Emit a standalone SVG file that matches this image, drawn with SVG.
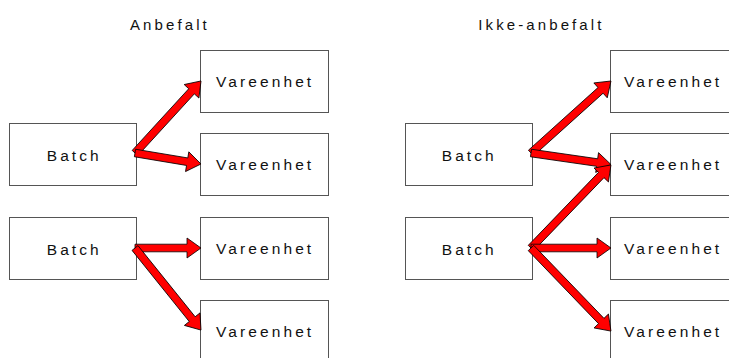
<svg xmlns="http://www.w3.org/2000/svg" width="729" height="358" viewBox="0 0 729 358">
  <style>
    .box { fill: #ffffff; stroke: #555555; stroke-width: 1; }
    .lbl { font-family: "Liberation Sans", Arial, sans-serif; font-size: 15.5px; fill: #111111; letter-spacing: 3.1px; }
    .ttl { font-family: "Liberation Sans", Arial, sans-serif; font-size: 15px; fill: #111111; letter-spacing: 3.1px; }
    .arr { fill: #ff0000; stroke: #000000; stroke-width: 0.8; stroke-linejoin: miter; }
  </style>
  <rect width="729" height="358" fill="#ffffff"/>

  <g id="title-left"><text class="ttl" x="130" y="29.5">Anbefalt</text></g>
  <g id="title-right"><text class="ttl" x="478.3" y="29.5">Ikke-anbefalt</text></g>

  <!-- Left panel nodes -->
  <g id="l-batch1"><rect class="box" x="9.5" y="123.5" width="127" height="62"/><text class="lbl" x="46.7" y="160.5">Batch</text></g>
  <g id="l-batch2"><rect class="box" x="9.5" y="217.5" width="127" height="62"/><text class="lbl" x="46.7" y="254.5">Batch</text></g>
  <g id="l-vare1"><rect class="box" x="200.5" y="50.5" width="128" height="62"/><text class="lbl" x="216" y="87">Vareenhet</text></g>
  <g id="l-vare2"><rect class="box" x="200.5" y="133.5" width="128" height="62"/><text class="lbl" x="216" y="170">Vareenhet</text></g>
  <g id="l-vare3"><rect class="box" x="200.5" y="217.5" width="128" height="62"/><text class="lbl" x="216" y="254">Vareenhet</text></g>
  <g id="l-vare4"><rect class="box" x="200.5" y="300.5" width="128" height="62"/><text class="lbl" x="216" y="337">Vareenhet</text></g>

  <!-- Right panel nodes -->
  <g id="r-batch1"><rect class="box" x="405.5" y="123.5" width="127" height="62"/><text class="lbl" x="441.7" y="160.5">Batch</text></g>
  <g id="r-batch2"><rect class="box" x="405.5" y="217.5" width="127" height="62"/><text class="lbl" x="441.7" y="254.5">Batch</text></g>
  <g id="r-vare1"><rect class="box" x="610.5" y="50.5" width="128" height="62"/><text class="lbl" x="624" y="87">Vareenhet</text></g>
  <g id="r-vare2"><rect class="box" x="610.5" y="133.5" width="128" height="62"/><text class="lbl" x="624" y="170">Vareenhet</text></g>
  <g id="r-vare3"><rect class="box" x="610.5" y="217.5" width="128" height="62"/><text class="lbl" x="624" y="254">Vareenhet</text></g>
  <g id="r-vare4"><rect class="box" x="610.5" y="300.5" width="128" height="62"/><text class="lbl" x="624" y="337">Vareenhet</text></g>

  <g id="connectors">
    <!-- Left panel -->
    <path class="arr" transform="translate(135,153) rotate(-47.5)" d="M0,-3.8 H83.7 V-10 L97.7,0 L83.7,10 V3.8 H0 Z"/>
    <path class="arr" transform="translate(135,153) rotate(9.46)" d="M0,-3.8 H52.9 V-10 L66.9,0 L52.9,10 V3.8 H0 Z"/>
    <path class="arr" transform="translate(135,248) rotate(0)" d="M0,-3.8 H52 V-10 L66,0 L52,10 V3.8 H0 Z"/>
    <path class="arr" transform="translate(135,248) rotate(51.2)" d="M0,-3.8 H91.3 V-10 L105.3,0 L91.3,10 V3.8 H0 Z"/>
    <!-- Right panel -->
    <path class="arr" transform="translate(531,153) rotate(-42)" d="M0,-3.8 H93.6 V-10 L107.6,0 L93.6,10 V3.8 H0 Z"/>
    <path class="arr" transform="translate(531,153) rotate(8.2)" d="M0,-3.8 H66.8 V-10 L80.8,0 L66.8,10 V3.8 H0 Z"/>
    <path class="arr" transform="translate(531,248) rotate(-46.1)" d="M0,-3.8 H101.3 V-10 L115.3,0 L101.3,10 V3.8 H0 Z"/>
    <path class="arr" transform="translate(531,248) rotate(0)" d="M0,-3.8 H66 V-10 L80,0 L66,10 V3.8 H0 Z"/>
    <path class="arr" transform="translate(531,248) rotate(46.1)" d="M0,-3.8 H101.3 V-10 L115.3,0 L101.3,10 V3.8 H0 Z"/>
  </g>
</svg>
